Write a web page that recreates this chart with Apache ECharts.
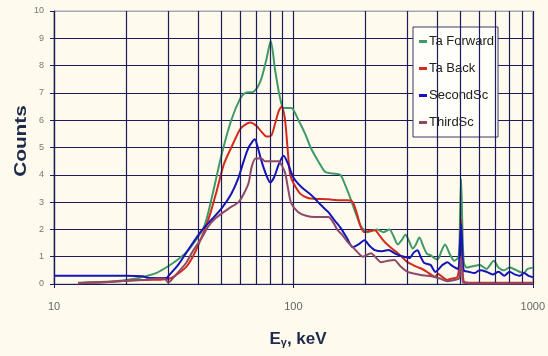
<!DOCTYPE html>
<html>
<head>
<meta charset="utf-8">
<script src="https://cdn.jsdelivr.net/npm/echarts@6/dist/echarts.min.js"></script>
<style>
  html, body { margin: 0; padding: 0; background: #fefaee; }
  #chart { width: 548px; height: 356px; }
</style>
</head>
<body>
<div id="chart"></div>
<script>
// Gamma spectra: counts vs photon energy (keV), log energy axis
const seriesNames = ['Ta Forward', 'Ta Back', 'SecondSc', 'ThirdSc'];
const seriesColors = ['#3f9a66', '#d42a1e', '#1414b8', '#8c4a6a'];

const taForwardE = [12.6, 18, 22, 25, 27, 30, 32.4, 35.6, 38, 42.4, 46, 50, 55, 60, 63, 68.4, 73, 77, 80.4, 84, 88, 91, 98, 105, 112, 118, 127, 136, 146, 157, 165, 172, 182, 192, 204, 213, 224, 238, 252, 262, 273, 283, 294, 305, 315, 325, 336, 350, 362, 375, 388, 401, 415, 430, 450, 470, 490, 497, 502, 507, 515, 530, 560, 600, 640, 687, 720, 757, 800, 834, 880, 917, 950, 1000];
const taForwardCounts = [0.05, 0.1, 0.2, 0.32, 0.42, 0.65, 0.85, 1.15, 1.45, 2.1, 3.3, 4.7, 6.0, 6.8, 7.0, 7.05, 7.45, 8.2, 8.9, 7.8, 6.8, 6.45, 6.45, 6.0, 5.5, 5.0, 4.5, 4.1, 4.05, 4.0, 3.6, 3.2, 2.6, 2.1, 1.9, 1.95, 2.0, 1.9, 2.0, 1.75, 1.45, 1.6, 1.8, 1.55, 1.3, 1.45, 1.7, 1.35, 1.1, 1.05, 0.95, 0.9, 1.2, 1.45, 1.1, 0.85, 1.0, 2.5, 3.85, 2.4, 0.8, 0.6, 0.65, 0.7, 0.55, 0.85, 0.6, 0.5, 0.6, 0.55, 0.45, 0.4, 0.55, 0.6];

const taBackE = [12.6, 16, 20, 24, 28, 30, 32, 35.6, 38, 40.4, 44.3, 47.8, 51.3, 56.4, 60.3, 66, 70, 74, 77.3, 81, 84, 87, 89.5, 92, 93.5, 95.3, 97, 100, 107, 115, 123, 140, 153, 169, 177, 184, 191, 198, 208, 219, 230, 243, 258, 273, 287, 300, 315, 330, 345, 362, 375, 392, 401, 420, 440, 460, 484, 495, 502, 508, 515, 560, 700, 1000];
const taBackCounts = [0.03, 0.06, 0.12, 0.15, 0.16, 0.18, 0.3, 0.62, 1.0, 1.5, 2.4, 3.4, 4.4, 5.2, 5.7, 5.92, 5.8, 5.55, 5.4, 5.45, 5.9, 6.35, 6.5, 6.1, 5.5, 4.6, 4.0, 3.7, 3.3, 3.15, 3.12, 3.1, 3.07, 3.07, 3.0, 2.6, 2.1, 1.9, 1.95, 1.97, 1.75, 1.5, 1.3, 1.13, 0.95, 0.8, 0.7, 0.62, 0.55, 0.44, 0.35, 0.26, 0.38, 0.25, 0.15, 0.2, 0.25, 0.8, 2.35, 0.9, 0.1, 0.05, 0.05, 0.05];

const secondScE = [10, 15, 20, 23.4, 25, 29.5, 30.3, 33, 35.6, 38, 41.5, 46, 50.4, 55, 59, 62, 65, 69, 71, 73.6, 77, 80, 83, 87, 91, 95, 100, 108, 119, 130, 140, 148, 158, 167, 177, 187, 198, 208, 219, 235, 250, 264, 277, 290, 305, 318, 330, 340, 352, 374, 392, 405, 420, 440, 455, 470, 488, 496, 502, 508, 515, 540, 570, 600, 640, 680, 720, 760, 800, 840, 880, 920, 960, 1000];
const secondScCounts = [0.3, 0.3, 0.3, 0.28, 0.22, 0.22, 0.33, 0.7, 1.13, 1.5, 1.97, 2.4, 2.8, 3.3, 3.9, 4.5, 5.0, 5.3, 5.0, 4.5, 4.0, 3.72, 3.9, 4.4, 4.7, 4.4, 3.9, 3.55, 3.25, 2.9, 2.63, 2.35, 2.04, 1.7, 1.35, 1.45, 1.6, 1.4, 1.24, 1.2, 1.25, 1.13, 1.05, 1.0, 0.95, 1.15, 1.24, 1.0, 0.77, 0.7, 0.44, 0.55, 0.7, 0.8, 0.7, 0.62, 0.55, 1.4, 2.2, 1.2, 0.5, 0.45, 0.4, 0.5, 0.45, 0.35, 0.45, 0.3, 0.45, 0.35, 0.3, 0.4, 0.3, 0.25];

const thirdScE = [12.6, 16, 20, 24, 27, 29, 30, 32, 35.6, 38, 41.5, 44, 47.2, 53.8, 59, 62, 65, 67, 69.5, 73.6, 76, 80, 86.7, 90, 92.5, 95, 98, 104.8, 113, 123, 140, 148, 153, 160, 168, 177, 186, 195, 211, 222, 232, 248, 264, 280, 300, 320, 340, 365, 388, 410, 440, 470, 492, 497, 502, 507, 512, 600, 1000];
const thirdScCounts = [0.03, 0.06, 0.12, 0.16, 0.2, 0.2, 0.05, 0.3, 0.77, 1.2, 1.7, 2.1, 2.4, 2.77, 3.0, 3.3, 3.7, 4.3, 4.6, 4.6, 4.5, 4.5, 4.5, 4.3, 4.05, 3.5, 2.95, 2.63, 2.5, 2.45, 2.45, 2.2, 1.97, 1.8, 1.55, 1.35, 1.15, 1.0, 1.13, 0.95, 0.8, 0.85, 0.88, 0.65, 0.44, 0.38, 0.33, 0.3, 0.26, 0.2, 0.1, 0.15, 0.2, 0.5, 1.0, 0.5, 0.05, 0.02, 0.02];

// Axis settings
const xTickLabels = [10, 100, 1000];
const minorGridE = [20, 30, 40, 50, 60, 70, 80, 90, 200, 300, 400, 500, 600, 700, 800, 900];
const yMin = 0, yMax = 10, yStep = 1;

const gridColor = '#1c1c58';
const titleFont = 'Liberation Sans, Arial, sans-serif';

function pairs(xs, ys) {
  return xs.map((x, i) => [x, ys[i]]);
}

const lineSets = [
  pairs(taForwardE, taForwardCounts),
  pairs(taBackE, taBackCounts),
  pairs(secondScE, secondScCounts),
  pairs(thirdScE, thirdScCounts)
];

// Split line colours: dark grid everywhere, light frame at the top
const ySplitColors = [];
for (let v = yMin; v <= yMax; v += yStep) {
  ySplitColors.push(v === yMax ? '#a8a8b0' : gridColor);
}

const chart = echarts.init(document.getElementById('chart'), null, { renderer: 'canvas' });

const series = [
  {
    // minor decade lines (20..90, 200..900) on the log energy axis
    name: '_grid',
    type: 'line',
    data: [[10, 0]],
    showSymbol: false,
    lineStyle: { opacity: 0 },
    silent: true,
    z: 1,
    markLine: {
      silent: true,
      symbol: ['none', 'none'],
      label: { show: false },
      lineStyle: { color: gridColor, type: 'solid', width: 1.2 },
      emphasis: { disabled: true },
      animation: false,
      data: minorGridE.map(e => ({ xAxis: e }))
    }
  }
].concat(lineSets.map((d, i) => ({
  name: seriesNames[i],
  type: 'line',
  data: d,
  showSymbol: false,
  smooth: 0.25,
  lineStyle: { color: seriesColors[i], width: 2 },
  itemStyle: { color: seriesColors[i] },
  z: 3 + i
})));

chart.setOption({
  animation: false,
  backgroundColor: '#fefaee',
  grid: {
    left: 54, right: 12, top: 11, bottom: 72,
    show: true,
    backgroundColor: '#fefaee',
    borderColor: '#a8a8b0',
    borderWidth: 1
  },
  legend: {
    data: seriesNames,
    orient: 'vertical',
    left: 413, top: 27,
    width: 85,
    padding: [8, 4, 8, 6],
    itemGap: 14,
    itemWidth: 8, itemHeight: 3,
    icon: 'rect',
    backgroundColor: '#fffef9',
    borderColor: '#3a3a6a',
    borderWidth: 1,
    textStyle: { fontFamily: titleFont, fontSize: 13, color: '#222', padding: [0, 0, 0, -3] }
  },
  xAxis: {
    type: 'log',
    logBase: 10,
    min: 10, max: 1000,
    axisLine: { show: true, lineStyle: { color: gridColor, width: 1.2 } },
    axisTick: { show: true, length: 4, lineStyle: { color: gridColor } },
    axisLabel: {
      margin: 17,
      fontFamily: titleFont,
      fontSize: 11,
      color: '#666',
      formatter: v => (xTickLabels.indexOf(Math.round(v)) >= 0 ? String(Math.round(v)) : '')
    },
    splitLine: { show: true, lineStyle: { color: gridColor, width: 1.2 } },
    minorTick: { show: false },
    minorSplitLine: { show: false }
  },
  yAxis: {
    type: 'value',
    min: yMin, max: yMax, interval: yStep,
    axisLine: { show: true, lineStyle: { color: gridColor, width: 1.2 } },
    axisTick: { show: true, length: 4, lineStyle: { color: gridColor } },
    axisLabel: {
      margin: 10,
      fontFamily: titleFont,
      fontSize: 9,
      color: '#777'
    },
    splitLine: { show: true, lineStyle: { color: ySplitColors, width: 1.2 } }
  },
  graphic: [
    {
      // vertical axis title, drawn a little elongated along its length
      type: 'text',
      x: 22, y: 141,
      rotation: Math.PI / 2,
      scaleX: 1.3,
      style: {
        text: 'Counts',
        fill: '#1e2a4a',
        font: 'bold 16px ' + titleFont,
        align: 'center',
        verticalAlign: 'middle'
      }
    },
    {
      type: 'text',
      x: 298, y: 339,
      style: {
        text: '{m|E}{s|γ}{m|, keV}',
        align: 'center',
        verticalAlign: 'middle',
        rich: {
          m: { font: 'bold 17px ' + titleFont, fill: '#1e2a4a' },
          s: { font: 'bold 11px ' + titleFont, fill: '#1e2a4a', padding: [8, 0, 0, 0] }
        }
      }
    }
  ],
  series: series
});
</script>
</body>
</html>
